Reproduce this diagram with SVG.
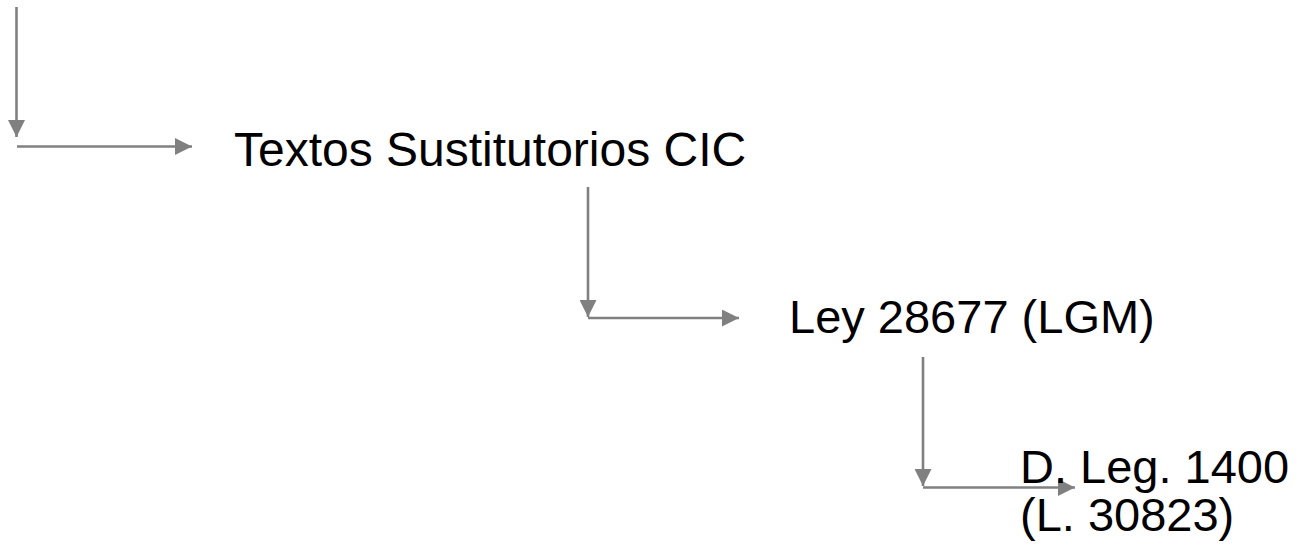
<svg xmlns="http://www.w3.org/2000/svg" width="1301" height="546" viewBox="0 0 1301 546">
<style>
.lbl{font-family:"Liberation Sans",Arial,sans-serif;font-size:47px;fill:#000}
.c{stroke:#808080;stroke-width:2.6;fill:none}
</style>
<defs>
<marker id="ah" markerUnits="userSpaceOnUse" markerWidth="17" markerHeight="17" viewBox="0 0 16 16" refX="16" refY="8" orient="auto">
<path d="M0,0 L16,8 L0,16 Z" fill="#808080"/>
</marker>
</defs>
<rect width="1301" height="546" fill="#fff"/>
<g id="connectors">
<line class="c" x1="16.5" y1="7" x2="16.5" y2="137" marker-end="url(#ah)"/>
<line class="c" x1="17" y1="146.5" x2="192" y2="146.5" marker-end="url(#ah)"/>
<line class="c" x1="588" y1="187" x2="588" y2="317" marker-end="url(#ah)"/>
<line class="c" x1="588" y1="318" x2="739" y2="318" marker-end="url(#ah)"/>
<line class="c" x1="923" y1="357" x2="923" y2="486" marker-end="url(#ah)"/>
<line class="c" x1="923" y1="487.5" x2="1075" y2="487.5" marker-end="url(#ah)"/>
</g>
<g id="node1"><text class="lbl" x="234" y="166" style="font-size:48px">Textos Sustitutorios CIC</text></g>
<g id="node2"><text class="lbl" x="789" y="333">Ley 28677 (LGM)</text></g>
<g id="node3"><text class="lbl" x="1020" y="483">D. Leg. 1400</text><text class="lbl" x="1020" y="531">(L. 30823)</text></g>
</svg>
